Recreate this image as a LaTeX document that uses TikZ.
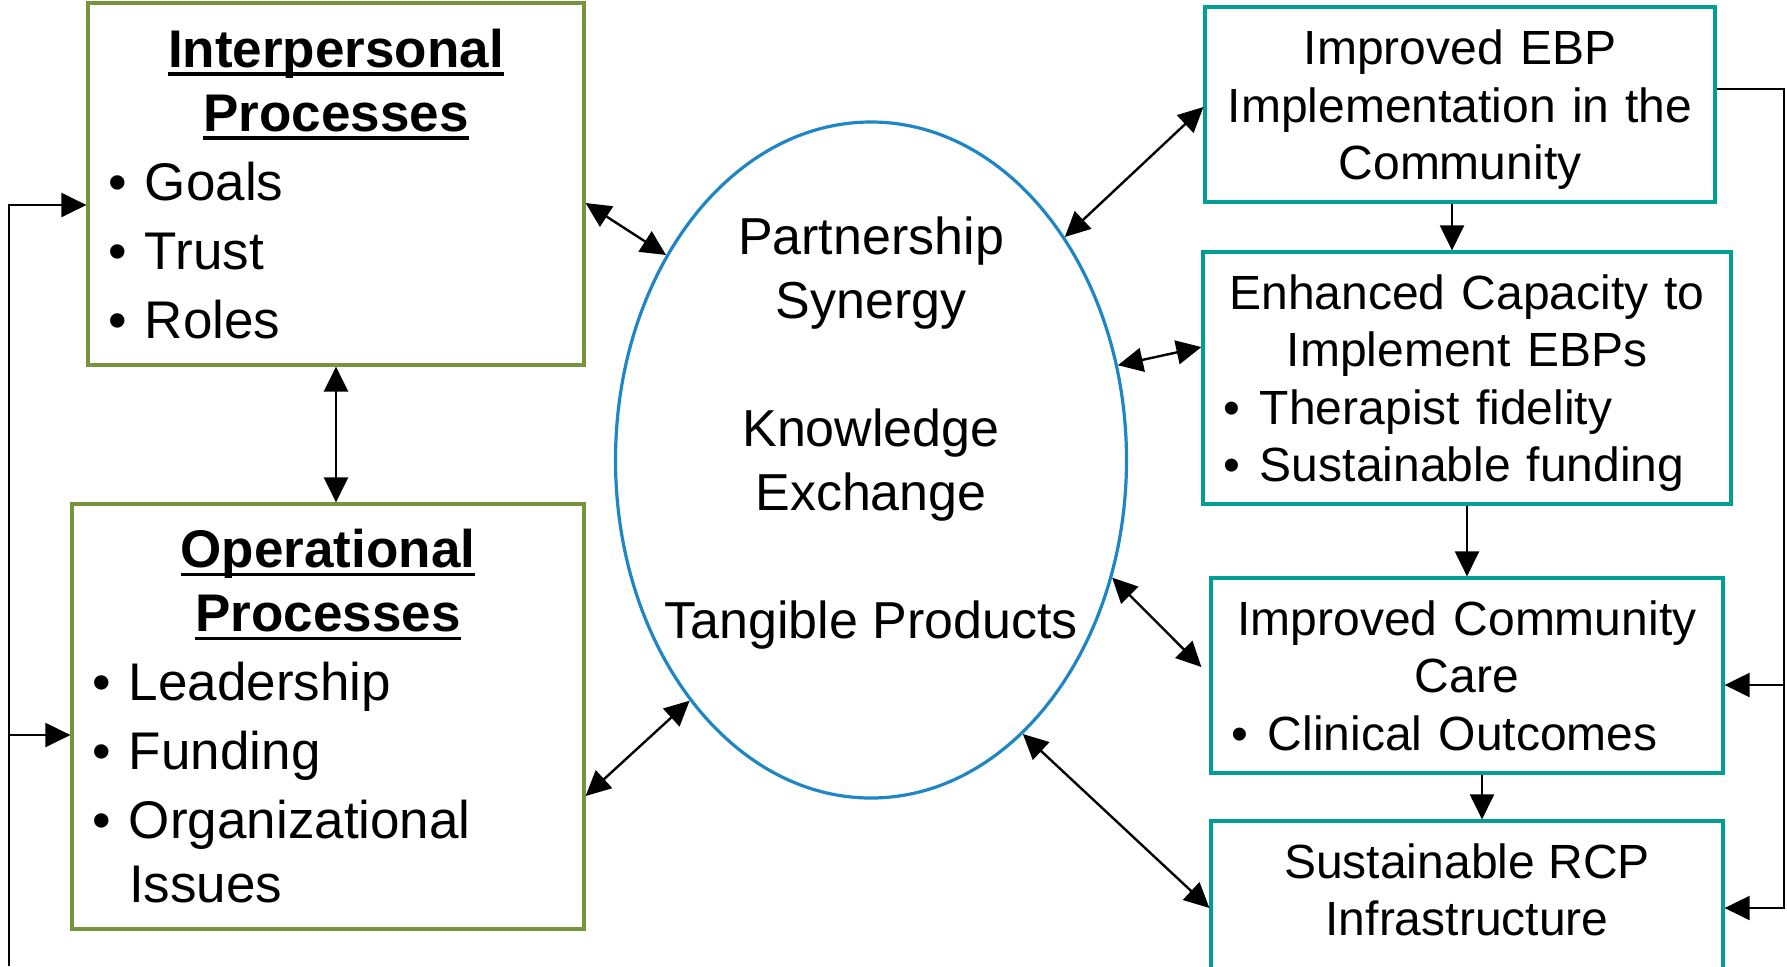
\documentclass[tikz,border=0pt]{standalone}
\usepackage{fontspec}
\setmainfont{Liberation Sans}
\usetikzlibrary{shapes.geometric,arrows.meta}

\definecolor{procgreen}{RGB}{119,147,60}
\definecolor{outteal}{RGB}{0,158,148}
\definecolor{synblue}{RGB}{30,134,196}

\newsavebox{\hdbox}
\newcommand{\hd}[1]{\leavevmode\sbox\hdbox{\bfseries #1}\rlap{\rule[-4.2pt]{\wd\hdbox}{1.7pt}}\usebox\hdbox}
\newcommand{\bitem}[1]{\makebox[\linewidth][l]{\makebox[18.5pt][l]{\textbullet}#1}}
\newcommand{\bmore}[1]{\makebox[\linewidth][l]{\hspace{18.5pt}#1}}

\begin{document}
\begin{tikzpicture}[x=0.5pt,y=-0.5pt,>={Triangle[length=12.5pt,width=12pt]},
  proc/.style={draw=procgreen,line width=1.6pt,inner xsep=10pt,inner ysep=0pt,
    align=center,font=\fontsize{26.5}{32}\selectfont},
  outc/.style={draw=outteal,line width=1.6pt,inner xsep=10pt,inner ysep=0pt,
    align=center,font=\fontsize{24}{28.75}\selectfont},
  link/.style={<->,line width=1.2pt},
  feed/.style={->,line width=1.1pt}]
 \useasboundingbox (0,0) rectangle (1787,966);
 \clip (0,0) rectangle (1787,966);

 \node[proc,minimum width=248pt,minimum height=181pt,text width=228pt] (inter) at (336,184)
   {\hd{Interpersonal}\\\hd{Processes}\\[2.5pt]\bitem{Goals}\\[2.5pt]\bitem{Trust}\\[2.5pt]\bitem{Roles}};
 \node[proc,minimum width=256pt,minimum height=212.5pt,text width=236pt] (oper) at (328,716.5)
   {\hd{Operational}\\\hd{Processes}\\[2.5pt]\bitem{Leadership}\\[2.5pt]\bitem{Funding}\\[2.5pt]\bitem{Organizational}\\\bmore{Issues}};

 \node[ellipse,draw=synblue,line width=1.6pt,minimum width=255.5pt,minimum height=338pt] (syn) at (871,460) {};
 \node[font=\fontsize{26}{32}\selectfont,align=center] (synText) at (871,433)
   {Partnership\\Synergy\\[32pt]Knowledge\\Exchange\\[32pt]Tangible Products};

 \node[outc,minimum width=255pt,minimum height=97.5pt,text width=235pt,text height=22.5pt] (ebp) at (1460,104.5)
   {Improved EBP\\Implementation in the\\Community};
 \node[outc,minimum width=264pt,minimum height=126pt,text width=244pt,text height=22.5pt] (enh) at (1467,378)
   {Enhanced Capacity to\\Implement EBPs\\\bitem{Therapist fidelity}\\\bitem{Sustainable funding}};
 \node[outc,minimum width=256pt,minimum height=97.5pt,text width=236pt] (care) at (1467,675.5)
   {Improved Community\\Care\\\bitem{Clinical Outcomes}};
 \node[outc,minimum width=256pt,minimum height=87pt] (rcp) at (1467,908) {};
 \node[font=\fontsize{24}{28.75}\selectfont,align=center] (rcpText) at (1467,890)
   {Sustainable RCP\\Infrastructure};

 \draw[link] ([yshift=-9.5pt]inter.east) -- (syn.135);
 \draw[link] ([yshift=-39.75pt]oper.east) -- (syn.233.7);
 \draw[link] ([yshift=-1.25pt]ebp.west) -- (syn.49.5);
 \draw[link] ([yshift=15.5pt]enh.west) -- (syn.21.8);
 \draw[link] ([xshift=-4pt,yshift=4.25pt]care.west) -- (syn.-26);
 \draw[link] (rcp.west) -- (syn.-61.5);
 \draw[link] (inter.south) -- (inter.south |- oper.north);

 \coordinate (d1) at ([xshift=-4pt]ebp.south);
 \draw[feed] (d1) -- (d1 |- enh.north);
 \draw[feed] (enh.south) -- (care.north);
 \coordinate (d3) at ([xshift=7.5pt]care.south);
 \draw[feed] (d3) -- (d3 |- rcp.north);

 \coordinate (loopL) at (9,966);
 \coordinate (interIn) at ([yshift=-10.5pt]inter.west);
 \coordinate (operIn) at ([yshift=-9.25pt]oper.west);
 \draw[feed] (loopL) |- (interIn);
 \draw[feed] (loopL |- operIn) -- (operIn);

 \coordinate (loopR) at (1784,0);
 \coordinate (ebpOut) at ([yshift=7.75pt]ebp.east);
 \coordinate (careIn) at ([yshift=-4.75pt]care.east);
 \draw[feed] (ebpOut) -| (loopR |- rcp.east) -- (rcp.east);
 \draw[feed] (loopR |- careIn) -- (careIn);
\end{tikzpicture}
\end{document}
